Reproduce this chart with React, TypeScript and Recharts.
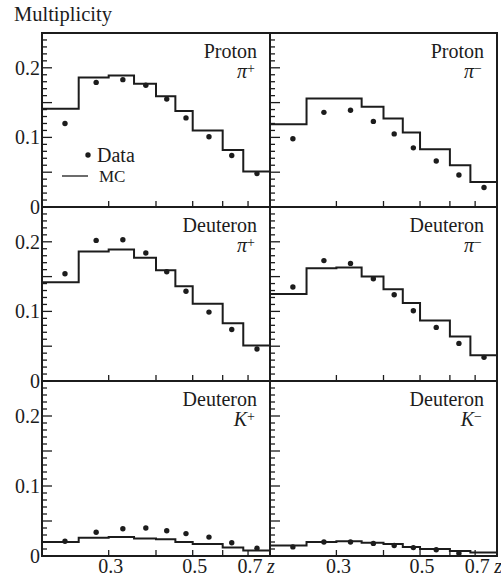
import React from "react";
import { ComposedChart, Line, Scatter, XAxis, YAxis, ReferenceArea } from "recharts";

const INK = "#1c1c1c";
const FONT = '"Liberation Serif", "DejaVu Serif", serif';

// z bin edges (log axis) and mean z of the data points in each bin
const EDGES = [0.2, 0.25, 0.3, 0.35, 0.4, 0.45, 0.5, 0.6, 0.68, 0.8];
const Z_MEAN = [0.23, 0.278, 0.327, 0.376, 0.427, 0.48, 0.552, 0.634, 0.739];

const Z_TICKS = [0.3, 0.4, 0.5, 0.6, 0.7];
const Z_LABELS = [0.3, 0.5, 0.7];
const M_TICKS = [
  0, 0.01, 0.02, 0.03, 0.04, 0.05, 0.06, 0.07, 0.08, 0.09, 0.1, 0.11, 0.12,
  0.13, 0.14, 0.15, 0.16, 0.17, 0.18, 0.19, 0.2, 0.21, 0.22, 0.23, 0.24, 0.25,
];
const M_LABELS = [0, 0.1, 0.2];

const PROTON_PIP_MC = [0.141, 0.186, 0.189, 0.177, 0.159, 0.138, 0.11, 0.082, 0.051];
const PROTON_PIP_DATA = [0.12, 0.179, 0.183, 0.175, 0.155, 0.128, 0.101, 0.074, 0.048];
const PROTON_PIM_MC = [0.119, 0.156, 0.156, 0.144, 0.127, 0.107, 0.083, 0.06, 0.036];
const PROTON_PIM_DATA = [0.098, 0.136, 0.139, 0.123, 0.105, 0.085, 0.066, 0.046, 0.028];
const DEUT_PIP_MC = [0.142, 0.186, 0.189, 0.177, 0.159, 0.136, 0.111, 0.083, 0.051];
const DEUT_PIP_DATA = [0.154, 0.202, 0.203, 0.184, 0.157, 0.129, 0.099, 0.074, 0.046];
const DEUT_PIM_MC = [0.125, 0.162, 0.163, 0.15, 0.132, 0.112, 0.087, 0.064, 0.037];
const DEUT_PIM_DATA = [0.135, 0.173, 0.169, 0.147, 0.124, 0.101, 0.077, 0.054, 0.034];
const DEUT_KP_MC = [0.02, 0.026, 0.027, 0.025, 0.024, 0.02, 0.017, 0.012, 0.008];
const DEUT_KP_DATA = [0.021, 0.034, 0.039, 0.04, 0.036, 0.032, 0.027, 0.019, 0.011];
const DEUT_KM_MC = [0.015, 0.02, 0.021, 0.019, 0.017, 0.013, 0.01, 0.007, 0.005];
const DEUT_KM_DATA = [0.013, 0.02, 0.02, 0.018, 0.015, 0.012, 0.009, 0.004, null];

const COLS = [
  { x: 42, w: 228 },
  { x: 270, w: 227 },
];
const ROWS = [
  { y: 33, h: 174 },
  { y: 207, h: 174 },
  { y: 381, h: 175 },
];
const M = { top: 10, right: 14, bottom: 28, left: 44 };
// axes are 1px wide/high (0 would hide them), so the margins give that pixel back
const CHART_MARGIN = { top: M.top, right: M.right, bottom: M.bottom - 1, left: M.left - 1 };

type PanelDef = {
  row: number;
  col: number;
  target: string;
  hadron: string;
  charge: string;
  mc: number[];
  data: (number | null)[];
};

const PANELS: PanelDef[] = [
  { row: 0, col: 0, target: "Proton", hadron: "π", charge: "+", mc: PROTON_PIP_MC, data: PROTON_PIP_DATA },
  { row: 0, col: 1, target: "Proton", hadron: "π", charge: "−", mc: PROTON_PIM_MC, data: PROTON_PIM_DATA },
  { row: 1, col: 0, target: "Deuteron", hadron: "π", charge: "+", mc: DEUT_PIP_MC, data: DEUT_PIP_DATA },
  { row: 1, col: 1, target: "Deuteron", hadron: "π", charge: "−", mc: DEUT_PIM_MC, data: DEUT_PIM_DATA },
  { row: 2, col: 0, target: "Deuteron", hadron: "K", charge: "+", mc: DEUT_KP_MC, data: DEUT_KP_DATA },
  { row: 2, col: 1, target: "Deuteron", hadron: "K", charge: "−", mc: DEUT_KM_MC, data: DEUT_KM_DATA },
];

function MultTick(props: any) {
  const { x, y, payload, labelled } = props;
  const v = payload.value as number;
  const hund = Math.round(v * 100);
  const len = hund % 5 === 0 ? 10 : 5;
  const show = labelled && M_LABELS.some((l) => Math.abs(l - v) < 1e-6);
  return (
    <g>
      <line x1={x} y1={y} x2={x + len} y2={y} stroke={INK} strokeWidth={1.3} />
      {show && (
        <text x={x - 2} y={y} dy="0.34em" textAnchor="end" fontFamily={FONT} fontSize={20} fill={INK}>
          {hund === 0 ? "0" : v.toFixed(1)}
        </text>
      )}
    </g>
  );
}

function ZTick(props: any) {
  const { x, y, payload, labelled } = props;
  const v = payload.value as number;
  const show = labelled && Z_LABELS.some((l) => Math.abs(l - v) < 1e-6);
  const last = Math.abs(v - Z_LABELS[Z_LABELS.length - 1]) < 1e-6;
  return (
    <g>
      <line x1={x} y1={y} x2={x} y2={y - 6} stroke={INK} strokeWidth={1.3} />
      {show && (
        <text x={x + 2} y={y + 17} textAnchor="middle" fontFamily={FONT} fontSize={20} fill={INK}>
          {v.toFixed(1)}
        </text>
      )}
      {show && last && (
        <text x={x + 19} y={y + 17} fontFamily={FONT} fontStyle="italic" fontSize={20} fill={INK}>
          z
        </text>
      )}
    </g>
  );
}

function Dot(props: any) {
  return <circle cx={props.cx} cy={props.cy} r={2.7} fill={INK} />;
}

function Panel({ p }: { p: PanelDef }) {
  const c = COLS[p.col];
  const r = ROWS[p.row];
  const steps = EDGES.map((z, i) => ({ z, mc: p.mc[Math.min(i, p.mc.length - 1)] }));
  const pts = Z_MEAN.map((z, i) => ({ z, y: p.data[i] })).filter((d) => d.y != null);
  const yLab = p.col === 0;
  const xLab = p.row === 2;
  return (
    <div style={{ position: "absolute", left: c.x - M.left, top: r.y - M.top }}>
      <ComposedChart width={c.w + M.left + M.right} height={r.h + M.top + M.bottom} margin={CHART_MARGIN}>
        <XAxis
          dataKey="z"
          type="number"
          scale="log"
          domain={[0.2, 0.8]}
          allowDataOverflow
          ticks={Z_TICKS}
          interval={0}
          height={1}
          tickSize={0}
          tickMargin={0}
          axisLine={false}
          tickLine={false}
          tick={(tp: any) => <ZTick {...tp} labelled={xLab} />}
        />
        <YAxis
          type="number"
          domain={[0, 0.25]}
          allowDataOverflow
          ticks={M_TICKS}
          interval={0}
          width={1}
          tickSize={0}
          tickMargin={0}
          axisLine={false}
          tickLine={false}
          tick={(tp: any) => <MultTick {...tp} labelled={yLab} />}
        />
        <ReferenceArea x1={0.2} x2={0.8} y1={0} y2={0.25} fill="none" stroke={INK} strokeWidth={2} ifOverflow="visible" />
        <Line
          data={steps}
          dataKey="mc"
          type="stepAfter"
          stroke={INK}
          strokeWidth={2}
          dot={false}
          activeDot={false}
          isAnimationActive={false}
        />
        <Scatter data={pts} dataKey="y" shape={Dot} isAnimationActive={false} />
      </ComposedChart>
    </div>
  );
}

export default function App() {
  return (
    <div
      style={{
        position: "absolute",
        left: 0,
        top: 0,
        width: 501,
        height: 580,
        overflow: "hidden",
        background: "#fff",
      }}
    >
      {PANELS.map((p, i) => (
        <Panel key={i} p={p} />
      ))}
      <svg width={501} height={580} style={{ position: "absolute", left: 0, top: 0, pointerEvents: "none" }}>
        <text x={14} y={21} fontFamily={FONT} fontSize={20.5} fill={INK}>
          Multiplicity
        </text>
        {PANELS.map((p, i) => {
          const c = COLS[p.col];
          const r = ROWS[p.row];
          const right = c.x + c.w - 13;
          return (
            <g key={i} fontFamily={FONT} fill={INK}>
              <text x={right} y={r.y + 25} textAnchor="end" fontSize={20}>
                {p.target}
              </text>
              <text x={right - 2} y={r.y + 45} textAnchor="end" fontSize={20}>
                <tspan fontStyle="italic">{p.hadron}</tspan>
                <tspan dy={-5} fontSize={14}>
                  {p.charge}
                </tspan>
              </text>
            </g>
          );
        })}
        <g fontFamily={FONT} fill={INK}>
          <circle cx={88} cy={155} r={2.7} fill={INK} />
          <text x={97} y={162} fontSize={20}>
            Data
          </text>
          <line x1={62} y1={176} x2={88} y2={176} stroke={INK} strokeWidth={1.3} />
          <text x={99} y={182} fontSize={17}>
            MC
          </text>
        </g>
      </svg>
    </div>
  );
}
